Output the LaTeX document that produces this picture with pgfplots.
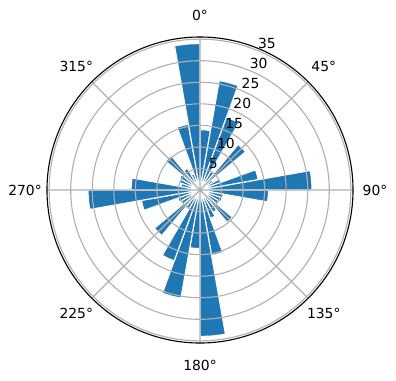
\documentclass[border=0pt]{standalone}
\usepackage{fontspec}
\setmainfont{DejaVu Sans}
\usepackage{pgfplots}
\pgfplotsset{compat=1.18}
\usepgfplotslibrary{polar}
\definecolor{barblue}{HTML}{1F77B4}
\definecolor{gridgray}{HTML}{B0B0B0}
\begin{document}
\begin{tikzpicture}
\begin{polaraxis}[
  at={(144pt,136.8pt)}, anchor=center,
  scale only axis, width=220.32pt, height=220.32pt,
  xmin=0, xmax=360, ymin=0, ymax=35.5,
  xtick={0,45,...,315}, ytick={5,10,...,35},
  xticklabels={}, yticklabels={},
  major tick length=0pt,
  grid=major,
  major grid style={draw=gridgray, line width=0.8pt},
  axis line style={black, line width=0.8pt},
  y axis line style={draw=none},
  axis on top,
  clip=false,
]
% compass bins [10k,10k+10], k = 0..35
\foreach \v [count=\k from 0] in {14,25.8,18,5,13.8,3.6,5,13.7,26,15.9,5.5,5.5,5,9.8,6,7,15.4,34,13.6,25.5,17.5,5,13.8,5,5.5,13.8,26,16,4.5,5,5.5,10.4,5.8,4,15.5,34}{
  \pgfmathsetmacro\aa{80-10*\k}
  \pgfmathsetmacro\bb{85-10*\k}
  \pgfmathsetmacro\cc{90-10*\k}
  \edef\temp{\noexpand\addplot[fill=barblue, draw=white, line width=0.8pt, line join=round] coordinates {(\aa,0) (\aa,\v) (\bb,\v) (\cc,\v) (\cc,0)} -- cycle;}
  \temp
}
\end{polaraxis}
% angle labels
\node[inner sep=0pt] at (144pt,262.8pt) {0°};
\node[inner sep=0pt] at (233.1pt,225.9pt) {45°};
\node[inner sep=0pt] at (270pt,136.8pt) {90°};
\node[inner sep=0pt] at (233.1pt,47.7pt) {135°};
\node[inner sep=0pt] at (144pt,10.8pt) {180°};
\node[inner sep=0pt] at (54.9pt,47.7pt) {225°};
\node[inner sep=0pt] at (18pt,136.8pt) {270°};
\node[inner sep=0pt] at (54.9pt,225.9pt) {315°};
% radial labels
\node[inner sep=0pt, anchor=west] at (150.2pt,156.0pt) {5};
\node[inner sep=0pt, anchor=west] at (156.1pt,170.4pt) {10};
\node[inner sep=0pt, anchor=west] at (162.0pt,184.8pt) {15};
\node[inner sep=0pt, anchor=west] at (167.9pt,199.2pt) {20};
\node[inner sep=0pt, anchor=west] at (173.8pt,213.6pt) {25};
\node[inner sep=0pt, anchor=west] at (179.7pt,228.0pt) {30};
\node[inner sep=0pt, anchor=west] at (185.6pt,242.4pt) {35};
\pgfresetboundingbox
\useasboundingbox (0,0) rectangle (285.12pt,273.6pt);
\end{tikzpicture}
\end{document}
